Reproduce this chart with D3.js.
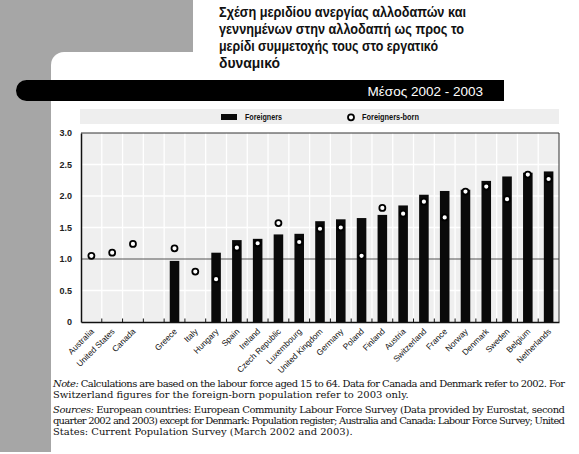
<!DOCTYPE html>
<html><head><meta charset="utf-8">
<script src="https://cdn.jsdelivr.net/npm/d3@7"></script>
<style>body{margin:0;background:#fff}svg{display:block}</style>
</head><body><div id="chart"></div>
<script>
const titleLines = ["Σχέση μεριδίου ανεργίας αλλοδαπών και","γεννημένων στην αλλοδαπή ως προς το","μερίδι συμμετοχής τους στο εργατικό","δυναμικό"];
const subtitle = "Μέσος 2002 - 2003";
const categories = ["Australia","United States","Canada","","Greece","Italy","Hungary","Spain","Ireland","Czech Republic","Luxembourg","United Kingdom","Germany","Poland","Finland","Austria","Switzerland","France","Norway","Denmark","Sweden","Belgium","Netherlands"];
const foreigners = [null,null,null,null,0.97,null,1.10,1.30,1.32,1.39,1.40,1.60,1.63,1.65,1.70,1.85,2.02,2.08,2.10,2.24,2.31,2.37,2.39];
const foreignBorn = [1.05,1.10,1.24,null,1.17,0.80,0.68,1.18,1.25,1.57,1.27,1.48,1.50,1.05,1.81,1.72,1.91,1.66,2.07,2.15,1.95,2.34,2.27];
const yTicks = [0,0.5,1.0,1.5,2.0,2.5,3.0];
const seriesNames = ["Foreigners","Foreigners-born"];
const noteLines = [
 {lead:"Note:", rest:" Calculations are based on the labour force aged 15 to 64. Data for Canada and Denmark refer to 2002. For", justify:true},
 {lead:"", rest:"Switzerland figures for the foreign-born population refer to 2003 only.", justify:false},
 {lead:"Sources:", rest:" European countries: European Community Labour Force Survey (Data provided by Eurostat, second", justify:true},
 {lead:"", rest:"quarter 2002 and 2003) except for Denmark: Population register; Australia and Canada: Labour Force Survey; United", justify:true},
 {lead:"", rest:"States: Current Population Survey (March 2002 and 2003).", justify:false}
];

const W=579,H=454;
const svg=d3.select("#chart").append("svg").attr("width",W).attr("height",H);
const gray="#a6a6a6";
svg.append("rect").attr("x",0).attr("y",0).attr("width",W).attr("height",H).attr("fill","#fff");
svg.append("rect").attr("x",0).attr("y",0).attr("width",193).attr("height",70).attr("fill",gray);
svg.append("rect").attr("x",0).attr("y",0).attr("width",51).attr("height",452).attr("fill",gray);
svg.append("rect").attr("x",51).attr("y",52).attr("width",700).attr("height",600).attr("rx",13).attr("fill","#fff");
svg.append("rect").attr("x",51).attr("y",452).attr("width",W).attr("height",10).attr("fill","#fff");

// title
const tg=svg.append("g").attr("font-family","Liberation Sans, Arial, sans-serif").attr("font-weight","bold").attr("font-size",14).attr("fill","#111");
const tLen=[247,245,219,61];
titleLines.forEach((t,i)=>{
  tg.append("text").attr("x",219).attr("y",17+i*17).attr("textLength",tLen[i]).attr("lengthAdjust","spacingAndGlyphs").text(t);
});

// banner
const bTop=80,bBot=101,bL=16,bR=504,r=(bBot-bTop)/2;
svg.append("path").attr("d",`M${bL+r},${bTop} H${bR} V${bBot} H${bL+r} A${r},${r} 0 0 1 ${bL+r},${bTop} Z`).attr("fill","#000");
svg.append("text").attr("x",483).attr("y",95.5).attr("text-anchor","end").attr("font-family","Liberation Sans, Arial, sans-serif").attr("font-size",13.5).attr("fill","#fff").text(subtitle);

// legend band
svg.append("rect").attr("x",80).attr("y",109).attr("width",479).attr("height",15).attr("fill","#eeeeee");
const lg=svg.append("g").attr("font-family","Liberation Sans Narrow, Liberation Sans, Arial, sans-serif").attr("font-weight","bold").attr("font-size",8.5).attr("fill","#111");
lg.append("rect").attr("x",221).attr("y",114).attr("width",16).attr("height",6).attr("fill","#0a0a0a");
lg.append("text").attr("x",245).attr("y",120).attr("textLength",37).attr("lengthAdjust","spacingAndGlyphs").text(seriesNames[0]);
lg.append("circle").attr("cx",351).attr("cy",117.3).attr("r",3).attr("fill","#fff").attr("stroke","#000").attr("stroke-width",1.8);
lg.append("text").attr("x",362).attr("y",120).attr("textLength",57).attr("lengthAdjust","spacingAndGlyphs").text(seriesNames[1]);

// plot
const pL=81,pR=559,pT=133,pB=322;
const x=d3.scaleBand().domain(categories).range([pL,pR]).padding(0);
const y=d3.scaleLinear().domain([0,3]).range([pB,pT]);
svg.append("rect").attr("x",pL).attr("y",pT).attr("width",pR-pL).attr("height",pB-pT).attr("fill","#efefef");
const grid=svg.append("g").attr("stroke","#fff").attr("stroke-width",1.3);
yTicks.filter(v=>v>0&&v<3&&v!==1).forEach(v=>grid.append("line").attr("x1",pL).attr("x2",pR).attr("y1",y(v)).attr("y2",y(v)));
categories.slice(1).forEach(c=>grid.append("line").attr("x1",x(c)).attr("x2",x(c)).attr("y1",pT).attr("y2",pB));
svg.append("line").attr("x1",pL).attr("x2",pR).attr("y1",y(1)).attr("y2",y(1)).attr("stroke","#555").attr("stroke-width",1.2);

// bars
const bw=x.bandwidth()*0.46;
svg.append("g").selectAll("rect").data(categories.map((c,i)=>({c,v:foreigners[i]})).filter(d=>d.v!=null))
 .join("rect").attr("x",d=>x(d.c)+x.bandwidth()/2-bw/2).attr("width",bw).attr("y",d=>y(d.v)).attr("height",d=>y(0)-y(d.v)).attr("fill","#0a0a0a");

// markers
svg.append("g").selectAll("circle").data(categories.map((c,i)=>({c,v:foreignBorn[i]})).filter(d=>d.v!=null))
 .join("circle").attr("cx",d=>x(d.c)+x.bandwidth()/2).attr("cy",d=>y(d.v)).attr("r",3).attr("fill","#fff").attr("stroke","#000").attr("stroke-width",1.8);

// frame
svg.append("path").attr("d",`M${pL},${pT} H${pR} V${pB}`).attr("fill","none").attr("stroke","#333").attr("stroke-width",1);
// axes
const yAxis=d3.axisLeft(y).tickValues(yTicks).tickSize(0).tickPadding(9).tickFormat(v=>v===0?"0":d3.format(".1f")(v));
const ya=svg.append("g").attr("transform",`translate(${pL},0)`).call(yAxis);
ya.select(".domain").attr("stroke","#111").attr("stroke-width",1.5);
ya.selectAll("text").attr("font-family","Liberation Sans, Arial, sans-serif").attr("font-size",9).attr("font-weight","bold").attr("fill","#222");

const xa=svg.append("g").attr("transform",`translate(0,${pB})`).call(d3.axisBottom(x).tickSize(0).tickFormat(""));
xa.select(".domain").attr("stroke","#111").attr("stroke-width",1.5);
const tk=svg.append("g").attr("stroke","#111").attr("stroke-width",1);
categories.slice(1).forEach(c=>tk.append("line").attr("x1",x(c)).attr("x2",x(c)).attr("y1",pB).attr("y2",pB-3.5));

svg.append("g").selectAll("text").data(categories.filter(c=>c!==""))
 .join("text").attr("transform",c=>`translate(${x(c)+x.bandwidth()/2+1},${pB+8}) rotate(-45)`)
 .attr("text-anchor","end").attr("dy","0.35em").attr("font-family","Liberation Sans, Arial, sans-serif").attr("font-size",8.3).attr("fill","#111").text(c=>c);

// notes
const ng=svg.append("g").attr("font-family","DejaVu Serif, Liberation Serif, serif").attr("font-size",10).attr("fill","#111");
const base=[387,398,413,424,435];
const texts=noteLines.map((l,i)=>{
  const t=ng.append("text").attr("x",53).attr("y",base[i]);
  if(l.lead) t.append("tspan").attr("font-style","italic").text(l.lead);
  t.append("tspan").text(l.rest);
  return t;
});
// fit font size so that the ragged line 2 spans its width in the reference
const w2=texts[1].node().getComputedTextLength();
const fs=Math.max(7,Math.min(11,10*356/w2));
ng.attr("font-size",fs);
noteLines.forEach((l,i)=>{ if(l.justify) texts[i].attr("textLength",512).attr("lengthAdjust","spacing"); });
</script></body></html>
